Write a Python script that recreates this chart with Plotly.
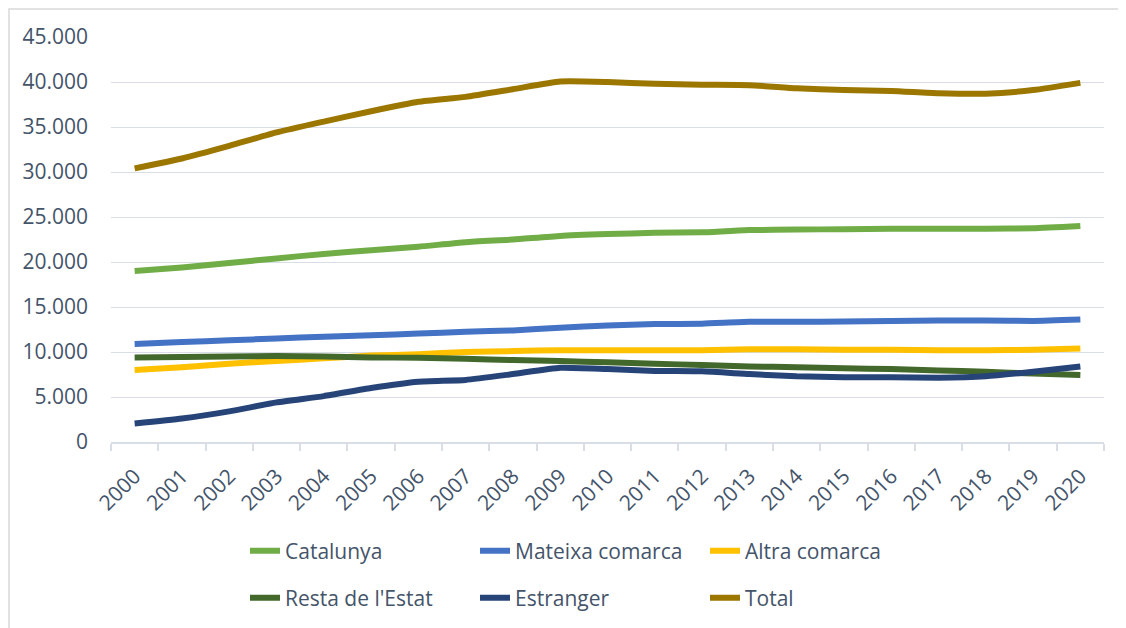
import plotly.graph_objects as go

years = [str(y) for y in range(2000, 2021)]

catalunya = [19000, 19400, 19900, 20400, 20900, 21300, 21700, 22200, 22500, 22900, 23100,
             23250, 23300, 23550, 23600, 23650, 23700, 23700, 23700, 23750, 24000]
mateixa_comarca = [10900, 11100, 11300, 11500, 11700, 11850, 12050, 12250, 12400, 12700, 12950,
                   13100, 13150, 13350, 13350, 13400, 13450, 13500, 13500, 13450, 13600]
altra_comarca = [8000, 8300, 8700, 9000, 9300, 9600, 9750, 10000, 10100, 10200, 10200,
                 10200, 10200, 10300, 10300, 10250, 10250, 10200, 10200, 10250, 10400]
resta_estat = [9400, 9450, 9500, 9550, 9500, 9400, 9350, 9250, 9100, 9000, 8850,
               8700, 8550, 8400, 8300, 8200, 8100, 7950, 7800, 7600, 7450]
estranger = [2050, 2600, 3400, 4400, 5100, 6000, 6700, 6900, 7550, 8250, 8100,
             7900, 7850, 7550, 7300, 7200, 7200, 7150, 7300, 7800, 8400]
total = [30400, 31500, 32900, 34400, 35600, 36750, 37800, 38350, 39200, 40050, 40000,
         39800, 39700, 39650, 39300, 39100, 39000, 38750, 38700, 39100, 39900]

y_ticks = list(range(0, 45001, 5000))
y_tick_labels = ["0" if v == 0 else f"{v:,}".replace(",", ".") for v in y_ticks]

series = [
    ("Catalunya", catalunya, "#70AD47", "legend"),
    ("Mateixa comarca", mateixa_comarca, "#4472C4", "legend"),
    ("Altra comarca", altra_comarca, "#FFC000", "legend"),
    ("Resta de l'Estat", resta_estat, "#43682B", "legend2"),
    ("Estranger", estranger, "#264478", "legend2"),
    ("Total", total, "#9C7700", "legend2"),
]

TEXT = "#44546A"
GRID = "#D9DEE6"
FONT = "Open Sans, Noto Sans, sans-serif"

fig = go.Figure()
for name, vals, color, leg in series:
    fig.add_trace(go.Scatter(
        x=years, y=vals, name=name, mode="lines", legend=leg,
        line=dict(color=color, width=6, shape="spline", smoothing=0.5),
    ))

# the page body has an 8px margin, so figure coords = page coords - 8
OFF = 8
W, H = 1118, 620
L, R, T, B = 103, 22, 29, 186
pw, ph = W - L - R, H - T - B


def px_x(page_x):
    return (page_x - OFF - L) / pw


def px_y(page_y):
    return (H - B - (page_y - OFF)) / ph


legend_common = dict(
    orientation="h", xanchor="left", yanchor="middle",
    x=px_x(245), font=dict(family=FONT, size=21, color=TEXT),
    entrywidthmode="pixels", entrywidth=185, bgcolor="rgba(0,0,0,0)",
    traceorder="normal",
)

fig.update_layout(
    width=W, height=H,
    margin=dict(l=L, r=R, t=T, b=B, autoexpand=False),
    paper_bgcolor="white", plot_bgcolor="white",
    font=dict(family=FONT, size=21, color=TEXT),
    legend=dict(legend_common, y=px_y(551)),
    legend2=dict(legend_common, y=px_y(598)),
    shapes=[dict(
        type="rect", xref="paper", yref="paper",
        x0=px_x(9), x1=px_x(1140), y0=px_y(640), y1=px_y(9),
        line=dict(color="#D9D9D9", width=1.5), fillcolor="rgba(0,0,0,0)", layer="below",
    )],
)

fig.update_xaxes(
    type="category", range=[-0.5, 20.5], showgrid=False,
    showline=True, linecolor=GRID, linewidth=1.5,
    ticks="outside", tickson="boundaries", ticklen=7, tickcolor=GRID, tickwidth=1.5,
    tickangle=-45, tickfont=dict(family=FONT, size=21, color=TEXT),
    ticklabelstandoff=12, automargin=False,
)
fig.update_yaxes(
    range=[0, 45000], tickvals=y_ticks, ticktext=y_tick_labels,
    showgrid=True, gridcolor=GRID, gridwidth=1.3, zeroline=False, showline=False,
    tickfont=dict(family=FONT, size=21, color=TEXT), ticklabelstandoff=22,
    automargin=False,
)

fig.write_html("out.html")
